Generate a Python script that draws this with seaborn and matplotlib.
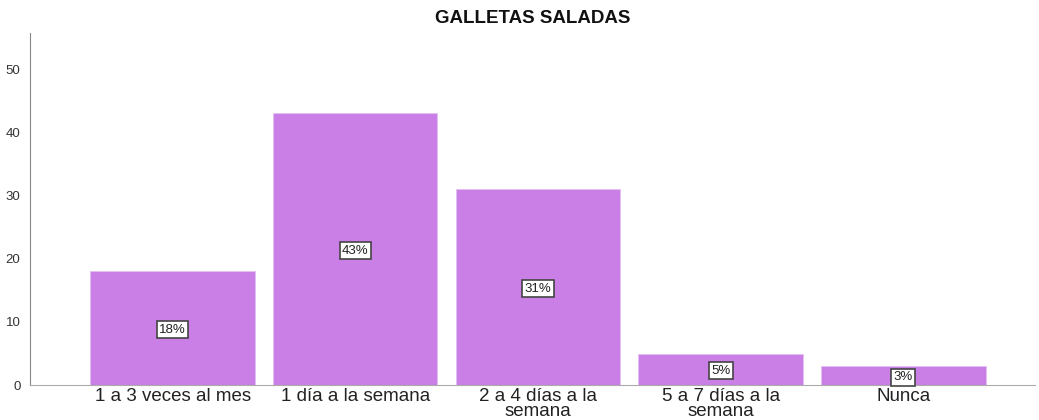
"""
    Bar chart of consumption frequency for 'Galletas saladas'.
"""

import seaborn as sns
import pandas as pd
import matplotlib.pyplot as plt

categories = ["1 a 3 veces al mes", "1 día a la semana", "2 a 4 días a la\nsemana",
              "5 a 7 días a la\nsemana", "Nunca"]
counts = [18, 43, 31, 5, 3]
percent_labels = ["18%", "43%", "31%", "5%", "3%"]

sns.set_style("white")
plt.rcParams['font.family'] = ['Liberation Sans', 'DejaVu Sans']

data = pd.DataFrame({"categoria": categories, "n": counts})

fig = plt.figure(figsize=(10.39, 4.2), dpi=100)
ax = fig.add_axes([0.029, 0.083, 0.967, 0.838])

sns.barplot(data=data, x="categoria", y="n", color="#c97fe5", saturation=1,
            width=0.9, edgecolor="#e3c0f2", linewidth=0.6, ax=ax)

for i, (v, lab) in enumerate(zip(counts, percent_labels)):
    ax.text(i, v / 2, lab, ha="center", va="center_baseline", fontsize=9.5, color="#222222",
            bbox=dict(boxstyle="square,pad=0.18", facecolor="white", edgecolor="#444444", linewidth=1.2))

ax.set_ylim(0, 55.7)
ax.set_xlim(-0.78, 4.72)
ax.set_yticks([0, 10, 20, 30, 40, 50])
ax.tick_params(axis="y", labelsize=9.5, labelcolor="#333333", length=0, pad=7)
ax.tick_params(axis="x", labelsize=13.5, labelcolor="#222222", length=0, pad=2)
for lab in ax.get_xticklabels():
    lab.set_linespacing(0.85)
ax.set_xlabel("")
ax.set_ylabel("")
sns.despine(ax=ax)
ax.spines["left"].set_color("#888888")
ax.spines["bottom"].set_color("#aaaaaa")
ax.set_title("GALLETAS SALADAS", fontsize=13.5, fontweight="bold", color="#111111", pad=7)

plt.savefig("out.png")
plt.close()
